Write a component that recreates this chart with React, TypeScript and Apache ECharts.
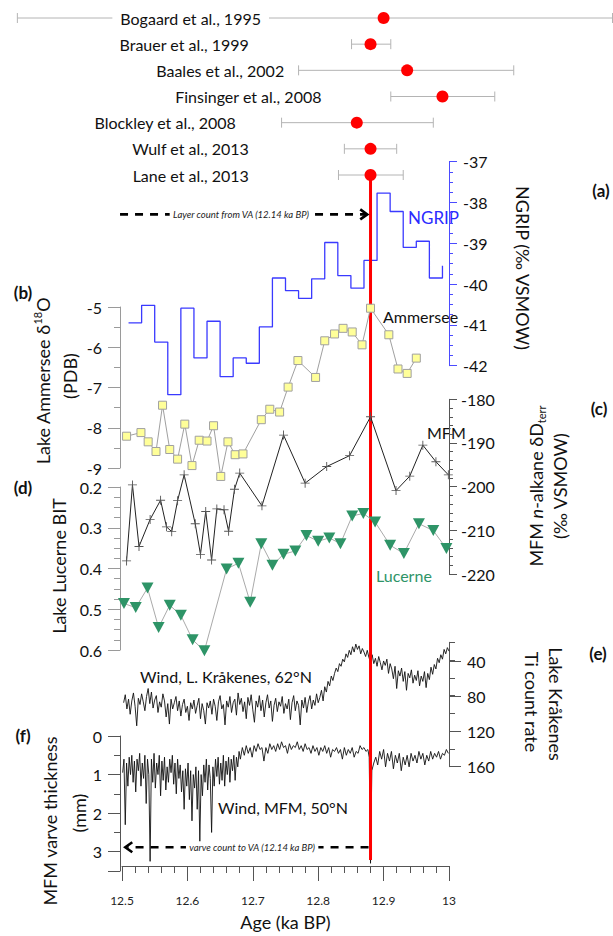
import React, { useEffect, useRef } from "react";
import * as echarts from "echarts";

const FONT = "Lato";

// (a) published ages of the Younger Dryas onset
const studyNames = [
  "Bogaard et al., 1995",
  "Brauer et al., 1999",
  "Baales et al., 2002",
  "Finsinger et al., 2008",
  "Blockley et al., 2008",
  "Wulf et al., 2013",
  "Lane et al., 2013",
];
const studyAge = [12.9, 12.88, 12.936, 12.99, 12.859, 12.88, 12.88];
const studyLo = [12.34, 12.851, 12.77, 12.911, 12.744, 12.84, 12.831];
const studyHi = [13.25, 12.911, 13.099, 13.07, 12.976, 12.92, 12.93];
const studyLabelAt = [12.605, 12.694, 12.748, 12.805, 12.674, 12.694, 12.694];

// NGRIP d18O (20-yr bins)
const ngripAge = [12.51, 12.53, 12.55, 12.57, 12.59, 12.61, 12.63, 12.65, 12.67, 12.69, 12.71, 12.73, 12.75, 12.77, 12.79, 12.81, 12.83, 12.85, 12.87, 12.89, 12.91, 12.93, 12.95, 12.97, 12.99];
const ngripVal = [-40.95, -40.52, -41.42, -42.71, -40.59, -41.81, -40.91, -42.27, -41.81, -41.94, -41.05, -39.85, -40.16, -40.35, -39.87, -38.98, -39.79, -40.1, -39.42, -37.77, -38.22, -39.1, -38.95, -39.85, -39.55];

// (b) Ammersee d18O
const amAge = [12.507, 12.529, 12.54, 12.552, 12.562, 12.573, 12.585, 12.596, 12.607, 12.618, 12.63, 12.64, 12.651, 12.662, 12.673, 12.685, 12.713, 12.726, 12.741, 12.754, 12.769, 12.796, 12.81, 12.825, 12.838, 12.852, 12.867, 12.88, 12.908, 12.922, 12.936, 12.95];
const amVal = [-8.21, -8.12, -8.35, -8.59, -7.44, -8.54, -8.78, -7.91, -8.94, -8.31, -8.33, -7.95, -9.21, -8.35, -8.67, -8.65, -7.8, -7.54, -7.61, -6.99, -6.33, -6.75, -5.84, -5.67, -5.53, -5.62, -5.94, -5.03, -5.69, -6.54, -6.65, -6.27];

// (c) MFM n-alkane dD
const mfmAge = [12.507, 12.516, 12.526, 12.543, 12.559, 12.568, 12.576, 12.585, 12.595, 12.612, 12.62, 12.628, 12.637, 12.645, 12.656, 12.663, 12.672, 12.68, 12.714, 12.747, 12.78, 12.813, 12.848, 12.88, 12.919, 12.94, 12.96, 12.98, 12.999];
const mfmVal = [-217.0, -199.6, -213.7, -207.5, -203.1, -209.2, -210.3, -203.2, -197.3, -208.5, -215.5, -205.7, -216.8, -205.1, -205.3, -210.2, -200.6, -196.9, -204.4, -188.2, -199.2, -195.4, -192.9, -184.0, -200.9, -197.6, -190.5, -194.3, -197.3];

// (d) Lucerne BIT
const luAge = [12.503, 12.521, 12.539, 12.556, 12.573, 12.59, 12.608, 12.626, 12.66, 12.678, 12.696, 12.713, 12.73, 12.747, 12.765, 12.782, 12.8, 12.817, 12.834, 12.852, 12.869, 12.887, 12.91, 12.931, 12.954, 12.976, 12.996];
const luVal = [0.486, 0.496, 0.448, 0.545, 0.49, 0.515, 0.575, 0.602, 0.401, 0.387, 0.483, 0.339, 0.392, 0.365, 0.357, 0.319, 0.333, 0.325, 0.339, 0.271, 0.265, 0.286, 0.343, 0.363, 0.29, 0.307, 0.351];

// (e) Lake Krakenes Ti count rate
const kraData = [
  [12.5025, 88], [12.505, 79], [12.5075, 95], [12.51, 84], [12.5125, 101], [12.515, 86], [12.5175, 77], [12.52, 92], [12.5225, 114], [12.525, 83],
  [12.5275, 90], [12.53, 78], [12.5325, 87], [12.535, 97], [12.5375, 81], [12.54, 72], [12.5425, 89], [12.545, 76], [12.5475, 94], [12.55, 85],
  [12.5525, 80], [12.555, 99], [12.5575, 87], [12.56, 93], [12.5625, 78], [12.565, 86], [12.5675, 104], [12.57, 89], [12.5725, 112], [12.575, 84],
  [12.5775, 95], [12.58, 88], [12.5825, 81], [12.585, 97], [12.5875, 86], [12.59, 103], [12.5925, 90], [12.595, 84], [12.5975, 99], [12.6, 92],
  [12.6025, 108], [12.605, 88], [12.6075, 95], [12.61, 85], [12.6125, 100], [12.615, 91], [12.6175, 83], [12.62, 106], [12.6225, 89], [12.625, 97],
  [12.6275, 112], [12.63, 88], [12.6325, 94], [12.635, 86], [12.6375, 101], [12.64, 84], [12.6425, 92], [12.645, 108], [12.6475, 87], [12.65, 80],
  [12.6525, 95], [12.655, 90], [12.6575, 113], [12.66, 86], [12.6625, 93], [12.665, 81], [12.6675, 99], [12.67, 88], [12.6725, 84], [12.675, 102],
  [12.6775, 77], [12.68, 90], [12.6825, 83], [12.685, 98], [12.6875, 87], [12.69, 106], [12.6925, 82], [12.695, 91], [12.6975, 79], [12.7, 96],
  [12.7025, 110], [12.705, 86], [12.7075, 93], [12.71, 80], [12.7125, 97], [12.715, 85], [12.7175, 104], [12.72, 88], [12.7225, 79], [12.725, 94],
  [12.7275, 86], [12.73, 109], [12.7325, 91], [12.735, 83], [12.7375, 98], [12.74, 87], [12.7425, 92], [12.745, 81], [12.7475, 100], [12.75, 89],
  [12.7525, 95], [12.755, 84], [12.7575, 107], [12.76, 88], [12.7625, 80], [12.765, 97], [12.7675, 86], [12.77, 91], [12.7725, 113], [12.775, 85],
  [12.7775, 94], [12.78, 82], [12.7825, 99], [12.785, 87], [12.7875, 80], [12.79, 95], [12.7925, 85], [12.795, 91], [12.7975, 78], [12.8, 88],
  [12.8025, 82], [12.805, 74], [12.8075, 86], [12.81, 70], [12.8125, 76], [12.815, 64], [12.8175, 69], [12.82, 58], [12.8225, 63], [12.825, 55],
  [12.8275, 49], [12.83, 53], [12.8325, 44], [12.835, 47], [12.8375, 39], [12.84, 42], [12.8425, 33], [12.845, 37], [12.8475, 29], [12.85, 34],
  [12.8525, 25], [12.855, 31], [12.8575, 22], [12.86, 28], [12.8625, 24], [12.865, 33], [12.8675, 27], [12.87, 31], [12.8725, 36], [12.875, 29],
  [12.8775, 37], [12.88, 42], [12.8825, 34], [12.885, 44], [12.8875, 38], [12.89, 47], [12.8925, 36], [12.895, 43], [12.8975, 51], [12.9, 41],
  [12.9025, 46], [12.905, 39], [12.9075, 55], [12.91, 44], [12.9125, 50], [12.915, 61], [12.9175, 47], [12.92, 72], [12.9225, 52], [12.925, 58],
  [12.9275, 49], [12.93, 64], [12.9325, 53], [12.935, 74], [12.9375, 55], [12.94, 60], [12.9425, 51], [12.945, 66], [12.9475, 57], [12.95, 63],
  [12.9525, 52], [12.955, 69], [12.9575, 58], [12.96, 64], [12.9625, 53], [12.965, 71], [12.9675, 55], [12.97, 62], [12.9725, 48], [12.975, 56],
  [12.9775, 45], [12.98, 50], [12.9825, 38], [12.985, 43], [12.9875, 34], [12.99, 39], [12.9925, 28], [12.995, 33], [12.9975, 26], [13.0, 30],
];

// (f) MFM varve thickness (mm)
const varveData = [
  [12.501, 0.95], [12.503, 0.6], [12.505, 2.3], [12.507, 0.7], [12.509, 1.3], [12.511, 0.55], [12.513, 1.0], [12.515, 0.5], [12.517, 1.2], [12.519, 0.65],
  [12.521, 1.45], [12.523, 0.6], [12.525, 0.9], [12.527, 0.45], [12.529, 1.3], [12.531, 0.7], [12.533, 1.1], [12.535, 0.5], [12.537, 1.75], [12.539, 0.6],
  [12.541, 1.0], [12.543, 3.25], [12.545, 0.6], [12.547, 1.2], [12.549, 0.45], [12.551, 1.35], [12.553, 0.7], [12.555, 1.0], [12.557, 0.5], [12.559, 1.55],
  [12.561, 0.65], [12.563, 1.15], [12.565, 0.55], [12.567, 1.4], [12.569, 0.8], [12.571, 1.2], [12.573, 0.6], [12.575, 0.95], [12.577, 0.5], [12.579, 1.25],
  [12.581, 0.7], [12.583, 1.5], [12.585, 0.6], [12.587, 1.1], [12.589, 0.75], [12.591, 1.45], [12.593, 0.9], [12.595, 1.9], [12.597, 0.85], [12.599, 1.3],
  [12.601, 0.7], [12.603, 1.65], [12.605, 0.9], [12.607, 2.2], [12.609, 1.0], [12.611, 1.35], [12.613, 0.8], [12.615, 1.9], [12.617, 0.9], [12.619, 2.75],
  [12.621, 1.0], [12.623, 1.55], [12.625, 0.75], [12.627, 1.2], [12.629, 0.6], [12.631, 1.4], [12.633, 0.75], [12.635, 1.1], [12.637, 2.5], [12.639, 0.8],
  [12.641, 1.3], [12.643, 0.6], [12.645, 1.05], [12.647, 0.55], [12.649, 1.25], [12.651, 0.7], [12.653, 1.15], [12.655, 0.5], [12.657, 1.3], [12.659, 0.65],
  [12.661, 1.0], [12.663, 0.55], [12.665, 1.2], [12.667, 0.6], [12.669, 0.9], [12.671, 0.5], [12.673, 1.15], [12.675, 0.55], [12.677, 0.8], [12.679, 0.4],
  [12.681, 0.6], [12.684, 0.3], [12.687, 0.5], [12.69, 0.25], [12.693, 0.45], [12.696, 0.3], [12.699, 0.55], [12.702, 0.25], [12.705, 0.4], [12.708, 0.2],
  [12.711, 0.35], [12.714, 0.3], [12.717, 0.65], [12.72, 0.3], [12.723, 0.45], [12.726, 0.2], [12.729, 0.35], [12.732, 0.25], [12.735, 0.4], [12.738, 0.2],
  [12.741, 0.35], [12.744, 0.15], [12.747, 0.3], [12.75, 0.25], [12.753, 0.45], [12.756, 0.2], [12.759, 0.35], [12.762, 0.25], [12.765, 0.3], [12.768, 0.15],
  [12.771, 0.35], [12.774, 0.25], [12.777, 0.4], [12.78, 0.2], [12.783, 0.35], [12.786, 0.3], [12.789, 0.45], [12.792, 0.25], [12.795, 0.4], [12.798, 0.3],
  [12.801, 0.5], [12.804, 0.3], [12.807, 0.4], [12.81, 0.25], [12.813, 0.45], [12.816, 0.3], [12.819, 0.55], [12.822, 0.35], [12.825, 0.4], [12.828, 0.3],
  [12.831, 0.45], [12.834, 0.35], [12.837, 0.6], [12.84, 0.3], [12.843, 0.5], [12.846, 0.35], [12.849, 0.45], [12.852, 0.3], [12.855, 0.55], [12.858, 0.4],
  [12.861, 0.45], [12.864, 0.25], [12.867, 0.35], [12.87, 0.3], [12.873, 0.4], [12.876, 0.35], [12.878, 0.55], [12.88, 3.3], [12.882, 0.9], [12.885, 0.7],
  [12.888, 0.55], [12.891, 0.75], [12.894, 0.4], [12.897, 0.6], [12.9, 0.35], [12.903, 0.8], [12.906, 0.45], [12.909, 0.65], [12.912, 0.4], [12.915, 0.85],
  [12.918, 0.5], [12.921, 0.7], [12.924, 0.45], [12.927, 0.9], [12.93, 0.55], [12.933, 0.75], [12.936, 0.5], [12.939, 0.8], [12.942, 0.45], [12.945, 0.65],
  [12.948, 0.5], [12.951, 0.7], [12.954, 0.4], [12.957, 0.6], [12.96, 0.45], [12.963, 0.75], [12.966, 0.5], [12.969, 0.65], [12.972, 0.4], [12.975, 0.6],
  [12.978, 0.45], [12.981, 0.55], [12.984, 0.4], [12.987, 0.6], [12.99, 0.45], [12.993, 0.5], [12.996, 0.35], [12.999, 0.45],
];

// onset marker and dashed arrows
const onsetAge = 12.88;
const arrowFrom = [12.497, 12.877];
const arrowTo = [12.875, 12.505];
const arrowRow = [0.0575, 0.9813];
const arrowTextAt = [12.682, 12.699];
const arrowText = ["Layer count from VA (12.14 ka BP)", "varve count to VA (12.14 ka BP)"];

const L = 122;
const W = 327;

function yAxisBase(gridIndex: number, extra: any) {
  return {
    type: "value",
    gridIndex,
    splitLine: { show: false },
    axisLabel: { fontFamily: FONT, fontSize: 16, color: "#111" },
    ...extra,
  };
}

function buildOption(): any {
  const grids = [
    { top: 18, height: 157 },
    { top: 161.7, height: 204 },
    { top: 307, height: 161 },
    { top: 399.3, height: 174.7 },
    { top: 487, height: 163 },
    { top: 642.3, height: 124.4 },
    { top: 661, height: 105.7 },
    { top: 736, height: 135 },
    { top: 175, height: 696 },
  ].map((g) => ({ left: L, width: W, ...g, containLabel: false }));

  const xAxes = grids.map((_, i) => ({
    type: "value",
    gridIndex: i,
    min: 12.5,
    max: 13,
    show: i === 8,
    axisLine: { onZero: false },
    ...(i === 8
      ? {
          position: "bottom",
          offset: 6,
          interval: 0.1,
          axisLine: { onZero: false, lineStyle: { color: "#555", width: 1 } },
          axisTick: { length: 15, lineStyle: { color: "#555" } },
          minorTick: { show: true, splitNumber: 5, length: 7, lineStyle: { color: "#555" } },
          splitLine: { show: false },
          minorSplitLine: { show: false },
          axisLabel: { fontFamily: FONT, fontSize: 12, color: "#222", margin: 28 },
          name: "Age (ka BP)",
          nameLocation: "middle",
          nameGap: 47,
          nameTextStyle: { fontFamily: FONT, fontSize: 18, color: "#111" },
        }
      : {}),
  }));

  const grey = "#9a9a9a";
  const dark = "#555";
  const blue = "#4b4bff";

  const yAxes = [
    { type: "value", gridIndex: 0, min: 0, max: 6, inverse: true, show: false },
    yAxisBase(1, {
      position: "right",
      min: -42,
      max: -37,
      interval: 1,
      axisLine: { show: true, lineStyle: { color: blue } },
      axisTick: { show: true, length: 8, lineStyle: { color: blue } },
      minorTick: { show: true, splitNumber: 4, length: 4, lineStyle: { color: blue } },
      axisLabel: { fontFamily: FONT, fontSize: 16, color: "#111", margin: 14 },
    }),
    yAxisBase(2, {
      position: "left",
      offset: 2,
      min: -9,
      max: -5,
      interval: 1,
      axisLine: { show: true, lineStyle: { color: grey } },
      axisTick: { show: true, length: 12, lineStyle: { color: grey } },
      minorTick: { show: true, splitNumber: 2, length: 6, lineStyle: { color: grey } },
      axisLabel: { fontFamily: FONT, fontSize: 16, color: "#111", margin: 18 },
    }),
    yAxisBase(3, {
      position: "right",
      min: -220,
      max: -180,
      interval: 10,
      axisLine: { show: true, lineStyle: { color: dark } },
      axisTick: { show: true, length: 8, lineStyle: { color: dark } },
      minorTick: { show: true, splitNumber: 5, length: 4, lineStyle: { color: dark } },
      axisLabel: { fontFamily: FONT, fontSize: 16, color: "#111", margin: 12 },
    }),
    yAxisBase(4, {
      position: "left",
      offset: 2,
      inverse: true,
      min: 0.2,
      max: 0.6,
      interval: 0.1,
      axisLine: { show: true, lineStyle: { color: grey } },
      axisTick: { show: true, length: 12, lineStyle: { color: grey } },
      minorTick: { show: true, splitNumber: 4, length: 6, lineStyle: { color: grey } },
      axisLabel: { fontFamily: FONT, fontSize: 16, color: "#111", margin: 18 },
    }),
    yAxisBase(5, {
      position: "right",
      inverse: true,
      min: 20,
      max: 160,
      interval: 20,
      axisLine: { show: true, lineStyle: { color: dark } },
      axisTick: { show: true, length: 6, lineStyle: { color: dark } },
      axisLabel: { show: false },
    }),
    yAxisBase(6, {
      position: "right",
      inverse: true,
      min: 40,
      max: 160,
      interval: 40,
      axisLine: { show: false },
      axisTick: { show: true, length: 12, lineStyle: { color: dark } },
      axisLabel: { fontFamily: FONT, fontSize: 16, color: "#111", margin: 18 },
    }),
    yAxisBase(7, {
      position: "left",
      offset: 2,
      inverse: true,
      min: 0,
      max: 3.5,
      interval: 1,
      axisLine: { show: true, lineStyle: { color: dark } },
      axisTick: { show: true, length: 12, lineStyle: { color: dark } },
      minorTick: { show: true, splitNumber: 2, length: 6, lineStyle: { color: dark } },
      axisLabel: {
        fontFamily: FONT,
        fontSize: 16,
        color: "#111",
        margin: 18,
        formatter: (v: number) => (Number.isInteger(v) ? String(v) : ""),
      },
    }),
    { type: "value", gridIndex: 8, min: 0, max: 1, inverse: true, show: false },
  ];

  const crossPath = "path://M4.5,0h1v4.5h4.5v1h-4.5v4.5h-1v-4.5h-4.5v-1h4.5z";

  const series: any[] = [
    {
      type: "custom",
      name: "studies",
      xAxisIndex: 0,
      yAxisIndex: 0,
      z: 5,
      data: studyNames.map((_, i) => [studyAge[i], i]),
      renderItem: (params: any, api: any) => {
        const i = params.dataIndex;
        const c = api.coord([studyAge[i], i]);
        const lo = api.coord([studyLo[i], i]);
        const hi = api.coord([studyHi[i], i]);
        const la = api.coord([studyLabelAt[i], i]);
        const y = c[1];
        const st = { stroke: "#b4b4b4", lineWidth: 1 };
        return {
          type: "group",
          children: [
            { type: "line", shape: { x1: lo[0], y1: y, x2: hi[0], y2: y }, style: st },
            { type: "line", shape: { x1: lo[0], y1: y - 5, x2: lo[0], y2: y + 5 }, style: st },
            { type: "line", shape: { x1: hi[0], y1: y - 5, x2: hi[0], y2: y + 5 }, style: st },
            {
              type: "text",
              x: la[0],
              y: y,
              style: {
                text: studyNames[i],
                align: i === 0 ? "center" : "right",
                verticalAlign: "middle",
                fontFamily: FONT,
                fontSize: 16,
                fill: "#111",
                backgroundColor: i === 0 ? "#fff" : "transparent",
                padding: i === 0 ? [2, 8] : 0,
              },
            },
            { type: "circle", shape: { cx: c[0], cy: y, r: 6 }, style: { fill: "#ff0000" } },
          ],
        };
      },
    },
    {
      type: "line",
      name: "NGRIP",
      xAxisIndex: 1,
      yAxisIndex: 1,
      step: "end",
      clip: false,
      symbol: "none",
      lineStyle: { color: "#3a3aff", width: 1.3 },
      data: ngripAge.map((a, i) => [a, ngripVal[i]]),
    },
    {
      type: "line",
      name: "Ammersee",
      xAxisIndex: 2,
      yAxisIndex: 2,
      clip: false,
      symbol: "rect",
      symbolSize: 8,
      z: 4,
      itemStyle: { color: "#ffff99", borderColor: "#a0a0a0", borderWidth: 1 },
      lineStyle: { color: "#a0a0a0", width: 1 },
      data: amAge.map((a, i) => [a, amVal[i]]),
    },
    {
      type: "line",
      name: "MFM",
      xAxisIndex: 3,
      yAxisIndex: 3,
      clip: false,
      symbol: crossPath,
      symbolSize: 9,
      z: 4,
      itemStyle: { color: "#555" },
      lineStyle: { color: "#222", width: 1 },
      data: mfmAge.map((a, i) => [a, mfmVal[i]]),
    },
    {
      type: "line",
      name: "Lucerne",
      xAxisIndex: 4,
      yAxisIndex: 4,
      clip: false,
      symbol: "triangle",
      symbolRotate: 180,
      symbolSize: [12, 11],
      z: 4,
      itemStyle: { color: "#2e9467" },
      lineStyle: { color: "#aaaaaa", width: 1 },
      data: luAge.map((a, i) => [a, luVal[i]]),
    },
    {
      type: "line",
      name: "Krakenes",
      xAxisIndex: 5,
      yAxisIndex: 5,
      clip: false,
      symbol: "none",
      lineStyle: { color: "#111", width: 0.9 },
      data: kraData,
    },
    {
      type: "line",
      name: "Varve",
      xAxisIndex: 7,
      yAxisIndex: 7,
      clip: false,
      symbol: "none",
      lineStyle: { color: "#111", width: 0.9 },
      data: varveData,
    },
    {
      type: "line",
      name: "onset",
      xAxisIndex: 8,
      yAxisIndex: 8,
      symbol: "none",
      z: 3,
      lineStyle: { color: "#ff0000", width: 3 },
      data: [
        [onsetAge, 0],
        [onsetAge, 1],
      ],
    },
    {
      type: "custom",
      name: "arrows",
      xAxisIndex: 8,
      yAxisIndex: 8,
      z: 6,
      data: arrowFrom.map((f, i) => [f, arrowRow[i]]),
      renderItem: (params: any, api: any) => {
        const i = params.dataIndex;
        const p0 = api.coord([arrowFrom[i], arrowRow[i]]);
        const p1 = api.coord([arrowTo[i], arrowRow[i]]);
        const pt = api.coord([arrowTextAt[i], arrowRow[i]]);
        const dir = p1[0] > p0[0] ? 1 : -1;
        return {
          type: "group",
          children: [
            {
              type: "line",
              shape: { x1: p0[0], y1: p0[1], x2: p1[0] - dir * 2, y2: p1[1] },
              style: { stroke: "#000", lineWidth: 2.6, lineDash: [8, 7] },
            },
            {
              type: "polyline",
              shape: {
                points: [
                  [p1[0] - dir * 7, p1[1] - 5],
                  [p1[0], p1[1]],
                  [p1[0] - dir * 7, p1[1] + 5],
                ],
              },
              style: { stroke: "#000", lineWidth: 2.6, fill: "none" },
            },
            {
              type: "text",
              x: pt[0],
              y: pt[1],
              style: {
                text: arrowText[i],
                align: "center",
                verticalAlign: "middle",
                fontFamily: FONT,
                fontSize: 9.5,
                fontStyle: "italic",
                fill: "#222",
                backgroundColor: "#fff",
                padding: [1, 3],
              },
            },
          ],
        };
      },
    },
  ];

  const t = (x: number, y: number, text: string, extra: any = {}) => ({
    type: "text",
    x,
    y,
    style: {
      text,
      fontFamily: FONT,
      fontSize: 16,
      fill: "#111",
      align: "left",
      verticalAlign: "middle",
      ...extra,
    },
  });
  const rot = (x: number, y: number, text: string, angle: number, extra: any = {}) => ({
    type: "text",
    x,
    y,
    rotation: angle,
    style: {
      text,
      fontFamily: FONT,
      fontSize: 18,
      fill: "#111",
      align: "center",
      verticalAlign: "middle",
      ...extra,
    },
  });
  const up = Math.PI / 2;
  const down = -Math.PI / 2;

  const graphic = [
    t(601, 190, "(a)", { align: "center", fontWeight: "bold", fontSize: 17 }),
    t(23, 292, "(b)", { align: "center", fontWeight: "bold", fontSize: 17 }),
    t(599, 408, "(c)", { align: "center", fontWeight: "bold", fontSize: 17 }),
    t(23, 487, "(d)", { align: "center", fontWeight: "bold", fontSize: 17 }),
    t(598, 653, "(e)", { align: "center", fontWeight: "bold", fontSize: 17 }),
    t(23, 735, "(f)", { align: "center", fontWeight: "bold", fontSize: 17 }),
    t(408, 217, "NGRIP", { fill: "#2b2bff", fontSize: 17 }),
    t(383, 316, "Ammersee", { fontSize: 16 }),
    t(427, 432, "MFM", { fontSize: 16 }),
    t(376, 575, "Lucerne", { fill: "#2e9467", fontSize: 16 }),
    t(140, 676, "Wind, L. Kråkenes, 62°N", { fontSize: 16 }),
    t(218, 807, "Wind, MFM, 50°N", { fontSize: 16 }),
    rot(523, 268, "NGRIP (‰ VSMOW)", down),
    rot(43, 381, "", up, {
      text: "{a|Lake Ammersee δ}{s|18}{a|O}",
      rich: {
        a: { fontFamily: FONT, fontSize: 18, fill: "#111", lineHeight: 22 },
        s: { fontFamily: FONT, fontSize: 11, fill: "#111", lineHeight: 22, verticalAlign: "top" },
      },
    }),
    rot(70, 376, "(PDB)", up),
    rot(536, 486, "", up, {
      text: "{a|MFM }{i|n}{a|-alkane δD}{b|terr}",
      rich: {
        a: { fontFamily: FONT, fontSize: 18, fill: "#111", lineHeight: 22 },
        i: { fontFamily: FONT, fontSize: 18, fill: "#111", lineHeight: 22, fontStyle: "italic" },
        b: { fontFamily: FONT, fontSize: 11, fill: "#111", lineHeight: 22, verticalAlign: "bottom" },
      },
    }),
    rot(560, 486, "(‰ VSMOW)", up),
    rot(59, 566, "Lake Lucerne BIT", up),
    rot(556, 704, "Lake Kråkenes", down),
    rot(532, 702, "Ti count rate", down),
    rot(50, 821, "MFM varve thickness", up),
    rot(79, 813, "(mm)", up),
  ];

  return {
    animation: false,
    backgroundColor: "#ffffff",
    grid: grids,
    xAxis: xAxes,
    yAxis: yAxes,
    series,
    graphic,
  };
}

export default function App() {
  const ref = useRef<HTMLDivElement>(null);
  useEffect(() => {
    if (!ref.current) return;
    const chart = echarts.init(ref.current, null, { renderer: "svg" });
    chart.setOption(buildOption());
    return () => chart.dispose();
  }, []);
  return (
    <div
      ref={ref}
      style={{ position: "absolute", left: 0, top: 0, width: 613, height: 936, background: "#fff" }}
    />
  );
}
